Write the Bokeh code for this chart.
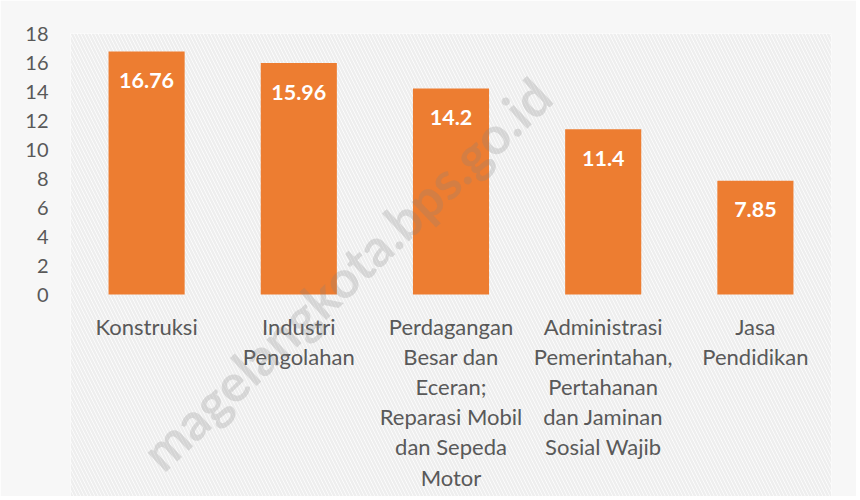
from bokeh.plotting import figure
from bokeh.models import FactorRange, Range1d, FixedTicker, BoxAnnotation, Label, ColumnDataSource
from bokeh.core.properties import value
from bokeh.embed import file_html
from bokeh.resources import INLINE

categories = ["Konstruksi", "Industri Pengolahan",
              "Perdagangan Besar dan Eceran; Reparasi Mobil dan Sepeda Motor",
              "Administrasi Pemerintahan, Pertahanan dan Jaminan Sosial Wajib",
              "Jasa Pendidikan"]
wrapped_labels = ["Konstruksi", "Industri\nPengolahan",
                  "Perdagangan\nBesar dan\nEceran;\nReparasi Mobil\ndan Sepeda\nMotor",
                  "Administrasi\nPemerintahan,\nPertahanan\ndan Jaminan\nSosial Wajib",
                  "Jasa\nPendidikan"]
values = [16.76, 15.96, 14.2, 11.4, 7.85]
value_labels = ["16.76", "15.96", "14.2", "11.4", "7.85"]
y_ticks = [0, 2, 4, 6, 8, 10, 12, 14, 16, 18]

FONT = "Lato"
TXT = "#595959"

W, H = 856, 496
LEFT, RIGHT_EDGE, TOP = 70, 831, 33
px_per_unit = (294 - 33) / 18.0
y_start = 18 - (H - TOP) / px_per_unit

p = figure(width=W, height=H, x_range=FactorRange(factors=categories),
           y_range=Range1d(y_start, 18), output_backend="svg", toolbar_location=None,
           min_border_left=LEFT, min_border_right=W - RIGHT_EDGE, min_border_top=TOP,
           min_border_bottom=0)
p.background_fill_color = "white"
p.border_fill_color = "#F7F7F7"
p.outline_line_color = None

bg = BoxAnnotation(fill_color="white", fill_alpha=1.0, line_alpha=0,
                   hatch_pattern="\\", hatch_color="#EEEEEE", hatch_weight=2.5, hatch_scale=7,
                   level="underlay")
p.add_layout(bg)

src = ColumnDataSource(dict(cat=categories, val=values, lab=value_labels, wl=wrapped_labels,
                            zero=[0] * len(categories)))
p.vbar(x="cat", top="val", width=0.5, source=src, color="#ED7D31", line_color=None)
p.text(x="cat", y="val", text="lab", source=src, y_offset=29, text_align="center",
       text_baseline="middle", text_color="white", text_font=value(FONT),
       text_font_style="bold", text_font_size="21.5px")

# category labels (multi-line) below the zero line
p.text(x="cat", y="zero", text="wl", source=src, y_offset=18, text_align="center",
       text_baseline="top", text_color=TXT, text_font=value(FONT),
       text_font_size="22px", text_line_height=1.12)

p.xgrid.grid_line_color = None
p.ygrid.grid_line_color = "#D9D9D9"
p.ygrid.grid_line_width = 2
p.yaxis.ticker = FixedTicker(ticks=y_ticks)
p.xaxis.visible = False

ax = p.yaxis[0]
ax.axis_line_color = None
ax.major_tick_line_color = None
ax.minor_tick_line_color = None
ax.major_tick_out = 0
ax.major_tick_in = 0
ax.major_label_text_font = FONT
ax.major_label_text_font_size = "20px"
ax.major_label_text_color = TXT
ax.major_label_standoff = 22

wm = Label(x=1.81, y=1.45, x_units="data", y_units="data", text="magelangkota.bps.go.id",
           angle=0.76, text_align="center", text_baseline="middle",
           text_font=FONT, text_font_style="bold", text_font_size="52px",
           text_color="#808080", text_alpha=0.24)
p.add_layout(wm)

open("out.html", "w").write(file_html(p, INLINE))
